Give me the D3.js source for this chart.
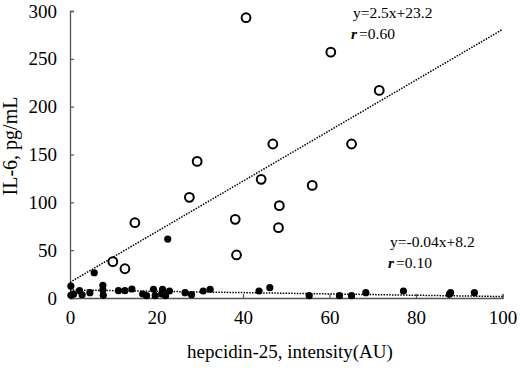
<!DOCTYPE html>
<html><head><meta charset="utf-8">
<script src="https://cdn.jsdelivr.net/npm/d3@7"></script>
<style>body{margin:0;background:#fff}svg{display:block}text{font-family:"Liberation Serif","Times New Roman",serif}
.tick text{font-family:"Liberation Serif",serif !important}</style>
</head><body><svg id="c" width="520" height="368"></svg>
<script>
const xTicks=[0,20,40,60,80,100];
const yTicks=[0,50,100,150,200,250,300];
const openX=[40.7,60.3,71.5,46.9,65.1,29.4,44.2,27.6,15.0,9.9,12.7,38.2,38.5,56.0,48.4,48.2];
const openY=[293,257,217,161,161,142.8,124,105.2,78.7,38,30.6,82.2,45,117.7,96.5,73.5];
const filledX=[0.2,0.2,0.8,2.2,2.8,4.6,5.6,7.6,7.6,7.7,11.2,12.7,14.3,16.8,17.7,19.3,19.7,21.2,21.4,22.1,23.0,22.6,26.6,28.1,30.8,32.4,43.7,46.2,55.3,62.3,65.1,68.4,77.1,87.7,88.0,93.5];
const filledY=[12.5,2.8,4.0,7.7,3.4,5.6,26.4,13.3,8.4,2.8,7.7,7.7,9.4,4.2,2.4,9.1,2.4,4.2,9.1,2.4,7.3,61.6,5.6,3.5,7.3,9.1,7.3,10.8,2.4,2.4,2.4,5.6,7.3,3.8,5.6,5.6];
const fitOpenX=[0,100], fitOpenY=[16.4,280.7];
const fitFilledX=[0,100], fitFilledY=[8.4,1.5];
const xTitle="hepcidin-25, intensity(AU)";
const yTitle="IL-6, pg/mL";

const svg=d3.select("#c");
const x=d3.scaleLinear().domain([0,100]).range([70,502.5]);
const y=d3.scaleLinear().domain([0,300]).range([298,11]);
const axisCol="#555";

const gx=svg.append("g").attr("transform","translate(0,298)")
  .call(d3.axisBottom(x).tickValues(xTicks).tickSize(-4).tickSizeOuter(-4).tickPadding(13));
const gy=svg.append("g").attr("transform","translate(70,0)")
  .call(d3.axisLeft(y).tickValues(yTicks).tickSize(-4).tickSizeOuter(-4).tickPadding(13));
[gx,gy].forEach(g=>{
  g.attr("font-family","Liberation Serif").attr("font-size",19);
  g.select(".domain").attr("stroke",axisCol).attr("stroke-width",1.3);
  g.selectAll(".tick line").attr("stroke",axisCol).attr("stroke-width",1.2);
  g.selectAll(".tick text").attr("fill","#000");
});

svg.append("text").attr("x",290).attr("y",358).attr("text-anchor","middle")
  .style("font-size","19px").text(xTitle);
svg.append("text").attr("transform","translate(17,146) rotate(-90)").attr("text-anchor","middle")
  .style("font-size","20px").text(yTitle);

function fitLine(xs,ys){
  svg.append("line").attr("x1",x(xs[0])).attr("y1",y(ys[0])).attr("x2",x(xs[1])).attr("y2",y(ys[1]))
    .attr("stroke","#000").attr("stroke-width",1.5).attr("stroke-dasharray","1.5,1.3");
}
fitLine(fitOpenX,fitOpenY);
fitLine(fitFilledX,fitFilledY);

svg.append("g").selectAll("circle").data(filledX.map((d,i)=>[d,filledY[i]])).join("circle")
  .attr("cx",d=>x(d[0])).attr("cy",d=>y(d[1])).attr("r",3.6).attr("fill","#000");
svg.append("g").selectAll("circle").data(openX.map((d,i)=>[d,openY[i]])).join("circle")
  .attr("cx",d=>x(d[0])).attr("cy",d=>y(d[1])).attr("r",4.4).attr("fill","#fff").attr("stroke","#000").attr("stroke-width",2);

function eq(x0,yb,t1,t2){
  svg.append("text").attr("x",x0).attr("y",yb).style("font-size","15.5px").text(t1);
  const t=svg.append("text").attr("x",x0-2).attr("y",yb+21).style("font-size","15.5px");
  t.append("tspan").style("font-weight","bold").style("font-style","italic").text("r");
  t.append("tspan").attr("dx",2).text(t2);
}
eq(353,18,"y=2.5x+23.2","=0.60");
eq(390,246.5,"y=-0.04x+8.2","=0.10");
</script></body></html>
